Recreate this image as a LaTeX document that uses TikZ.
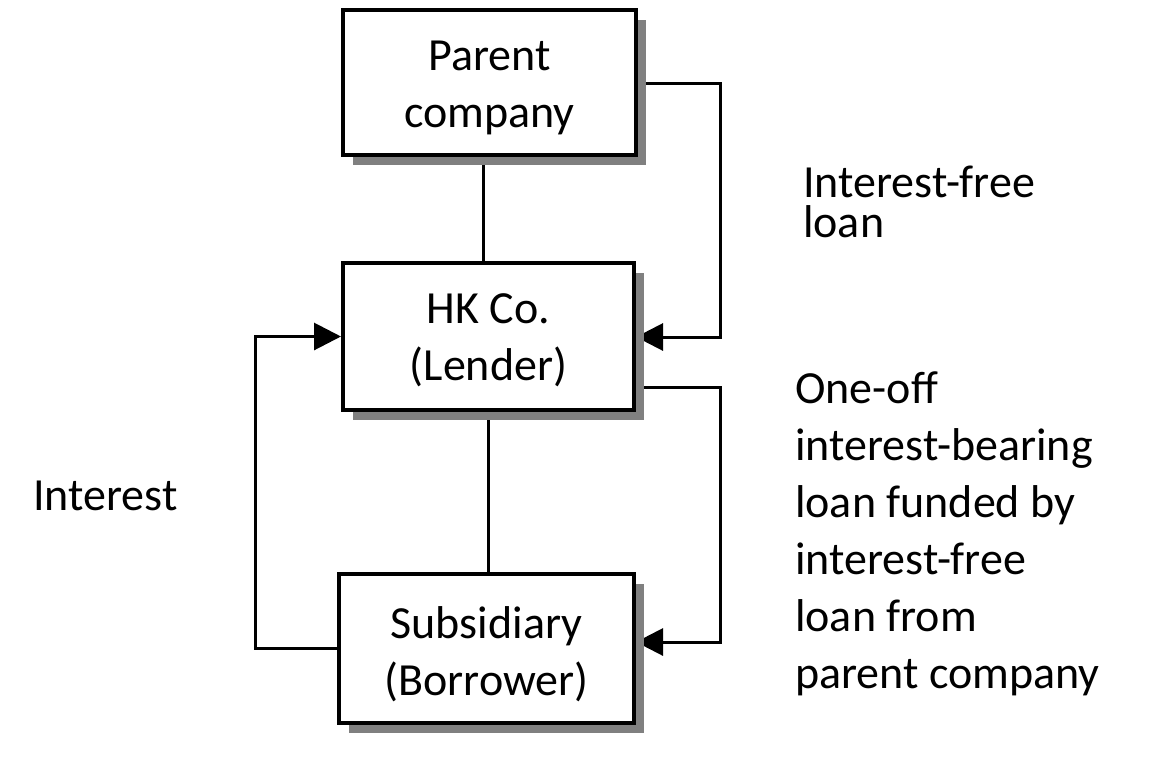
\documentclass[tikz,border=0pt]{standalone}
\usepackage{fontspec}
\setmainfont{Carlito}
\usetikzlibrary{arrows.meta,shadows}
\pgfdeclarelayer{bg}
\pgfsetlayers{bg,main}
\tikzset{
  entity/.style={draw=black, line width=4pt, fill=white, align=center,
    font=\fontsize{46}{57}\selectfont, inner sep=0pt, text depth=12pt,
    drop shadow={shadow xshift=10pt, shadow yshift=-10pt, fill=gray, opacity=1}},
  conn/.style={line width=3pt, draw=black},
  flow/.style={conn, -{Triangle[length=27pt,width=27pt]}},
  lbl/.style={font=\fontsize{46}{57}\selectfont, align=left, inner sep=0pt, anchor=base west}
}
\begin{document}
\begin{tikzpicture}[x=1pt,y=-1pt]
\useasboundingbox (0,0) rectangle (1154,766);
\node[entity, minimum width=293pt, minimum height=145pt, text height=101pt] (P) at (489.5,82.5) {Parent\\company};
\node[entity, minimum width=291pt, minimum height=147pt, text height=99pt] (H) at (488.5,336.5) {HK Co.\\(Lender)};
\node[entity, minimum width=295pt, minimum height=149pt, text height=105pt] (S) at (486.5,648.5) {Subsidiary\\(Borrower)};
\coordinate (c1) at (720,83);
\coordinate (c2) at (720,337);
\coordinate (c3) at (720,387);
\coordinate (c4) at (720,642);
\coordinate (c5) at (255,648.5);
\coordinate (c6) at (255,336.5);
\begin{pgfonlayer}{bg}
\draw[conn] (P.south -| 483,0) -- (H.north -| 483,0);
\draw[conn] (H.south -| 488,0) -- (S.north -| 488,0);
\draw[flow] (P.east |- c1) -- (c1) -- (c2) -- (H.east |- c2);
\draw[flow] (H.east |- c3) -- (c3) -- (c4) -- (S.east |- c4);
\draw[flow] (S.west) -- (c5) -- (c6) -- (H.west);
\end{pgfonlayer}
\node[lbl] (t1) at (803,237) {Interest-free\\[-17pt]loan};
\node[lbl] (t2) at (795,688) {One-off\\interest-bearing\\loan funded by\\interest-free\\loan from\\parent company};
\node[lbl] (t3) at (33,510) {Interest};
\end{tikzpicture}
\end{document}
